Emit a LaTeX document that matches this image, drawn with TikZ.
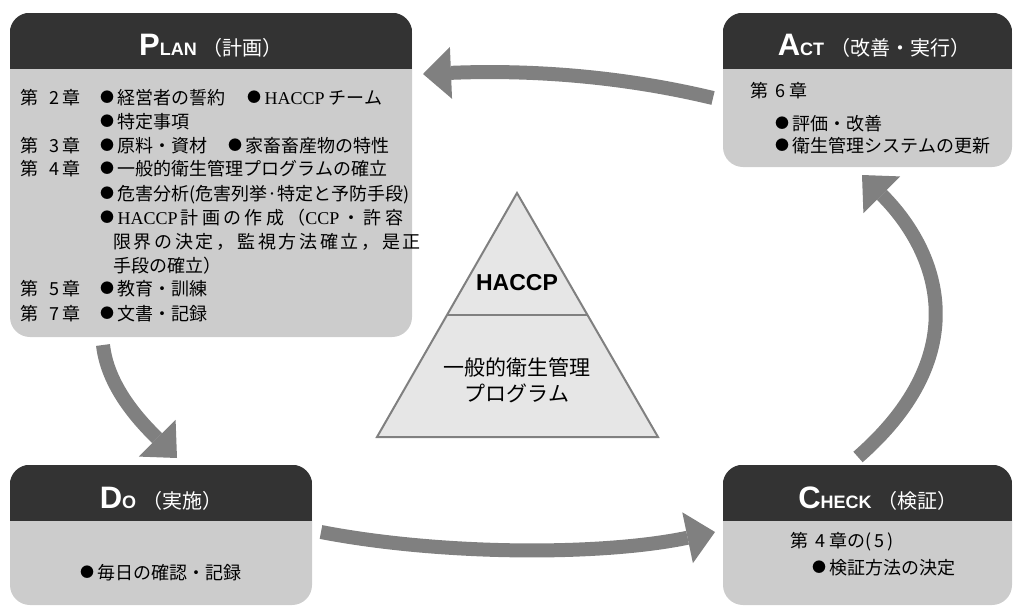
\documentclass[tikz,border=0pt]{standalone}
\usepackage{fontspec}
\setmainfont{Liberation Serif}
\newfontfamily\jp{Noto Sans CJK JP}
\newfontfamily\lsans{Liberation Sans}
\newfontfamily\lserif{Liberation Serif}
\usetikzlibrary{arrows.meta}
\definecolor{hdr}{HTML}{333333}
\definecolor{bodyc}{HTML}{CCCCCC}
\definecolor{arr}{HTML}{808080}
\definecolor{trif}{HTML}{E6E6E6}
\newcommand\bul{\raisebox{1.5pt}{\fontsize{14}{14}\selectfont ●}\hspace{3.5pt}}
\newcommand\hdtitle[3]{{\lsans\bfseries\fontsize{31}{31}\selectfont #1}{\lsans\bfseries\fontsize{18}{18}\selectfont #2}\hspace{6pt}{\jp\fontsize{20}{20}\selectfont #3}}
\newcommand\hac{{\lserif HACCP}}
\newcommand\hdrof[1]{\begin{scope}\clip[rounded corners=20pt] (#1.north west) rectangle (#1.south east);
  \fill[hdr] (#1.north west) rectangle ([yshift=-56pt]#1.north east);\end{scope}}
\begin{document}
\begin{tikzpicture}[x=1pt,y=-1pt,
  box/.style={rectangle, rounded corners=20pt, fill=bodyc, inner sep=0pt},
  ttl/.style={anchor=base, text=white, inner sep=0pt},
  txt/.style={anchor=base west, inner sep=0pt, font=\jp\fontsize{18}{18}\selectfont},
  bigarrow/.style={draw=arr, line width=14pt, -{Triangle[length=28pt,width=52pt,line width=0pt]}},
  tritxt/.style={inner sep=0pt, font=\jp\fontsize{21}{21}\selectfont}
]
\useasboundingbox (0,0) rectangle (1013,614);

% boxes
\node[box, minimum width=402pt, minimum height=324pt] (plan) at (211,175) {};
\node[box, minimum width=289pt, minimum height=154pt] (act) at (867.5,90) {};
\node[box, minimum width=302pt, minimum height=140pt] (dobox) at (161,535) {};
\node[box, minimum width=289pt, minimum height=140pt] (check) at (867.5,535) {};
\hdrof{plan}
\hdrof{act}
\hdrof{dobox}
\hdrof{check}

% titles
\node[ttl] (planT) at (211,55) {\hdtitle{P}{LAN}{（計画）}};
\node[ttl] (actT) at (874,55) {\hdtitle{A}{CT}{（改善・実行）}};
\node[ttl] (doT) at (161,508) {\hdtitle{D}{O}{（実施）}};
\node[ttl] (chkT) at (878,508) {\hdtitle{C}{HECK}{（検証）}};

% PLAN body
\node[txt] (p1a) at (20,104) {第\hspace{11pt}2\hspace{3pt}章};
\node[txt] (p1b) at (100,104) {\bul 経営者の誓約};
\node[txt] (p1c) at (247,104) {\bul\hac\ チーム};
\node[txt] (p2) at (100,128) {\bul 特定事項};
\node[txt] (p3a) at (20,152) {第\hspace{11pt}3\hspace{3pt}章};
\node[txt] (p3b) at (100,152) {\bul 原料・資材};
\node[txt] (p3c) at (228,152) {\bul 家畜畜産物の特性};
\node[txt] (p4a) at (20,175) {第\hspace{11pt}4\hspace{3pt}章};
\node[txt] (p4b) at (100,175) {\bul 一般的衛生管理プログラムの確立};
\node[txt] (p5) at (100,200) {\bul 危害分析(危害列挙·特定と予防手段)};
\node[txt] (p6) at (100,224) {\makebox[303pt][s]{{\bul}{\hac} 計 画 の 作 成 （{\lserif CCP} ・ 許 容}};
\node[txt] (p7) at (113,248) {\makebox[290pt][s]{限 界 の 決 定 ， 監 視 方 法 確 立 ， 是 正}};
\node[txt] (p8) at (113,272) {手段の確立）};
\node[txt] (p9a) at (20,295) {第\hspace{11pt}5\hspace{3pt}章};
\node[txt] (p9b) at (100,295) {\bul 教育・訓練};
\node[txt] (p10a) at (20,320) {第\hspace{11pt}7\hspace{3pt}章};
\node[txt] (p10b) at (100,320) {\bul 文書・記録};

% ACT body
\node[txt] (a1) at (750,97) {第\hspace{7pt}6\hspace{4pt}章};
\node[txt] (a2) at (775,130) {\bul 評価・改善};
\node[txt] (a3) at (775,152) {\bul 衛生管理システムの更新};

% DO body
\node[txt] (d1) at (80,579) {\bul 毎日の確認・記録};

% CHECK body
\node[txt] (c1) at (790,547) {第\hspace{7pt}4\hspace{4pt}章の(\,5\,)};
\node[txt] (c2) at (812,574) {\bul 検証方法の決定};

% pyramid
\coordinate (t1) at (517,193);
\coordinate (t2) at (658,437);
\coordinate (t3) at (377,437);
\coordinate (m1) at (447,315);
\coordinate (m2) at (587.5,315);
\draw[fill=trif, draw=arr, line width=2pt] (t1) -- (t2) -- (t3) -- cycle;
\draw[draw=arr, line width=2pt] (m1) -- (m2);
\node[inner sep=0pt, font=\lsans\bfseries\fontsize{23}{23}\selectfont] (tH) at (517,283) {HACCP};
\node[tritxt] (tG1) at (517,367) {一般的衛生管理};
\node[tritxt] (tG2) at (517,393) {プログラム};

% arrows
\coordinate (a1s) at (713,98);
\coordinate (a1e) at (423,74);
\coordinate (a2s) at (103,345);
\coordinate (a2e) at (177,458);
\coordinate (a3s) at (321,532);
\coordinate (a3e) at (715,532);
\coordinate (a4s) at (858,457);
\coordinate (a4e) at (862,175);
\draw[bigarrow] (a1s) .. controls (613,74) and (520,70) .. (a1e);
\draw[bigarrow] (a2s) .. controls (108,390) and (145,426) .. (a2e);
\draw[bigarrow] (a3s) .. controls (440,555) and (600,556) .. (a3e);
\draw[bigarrow] (a4s) .. controls (978,352) and (937,250) .. (a4e);
\end{tikzpicture}
\end{document}
